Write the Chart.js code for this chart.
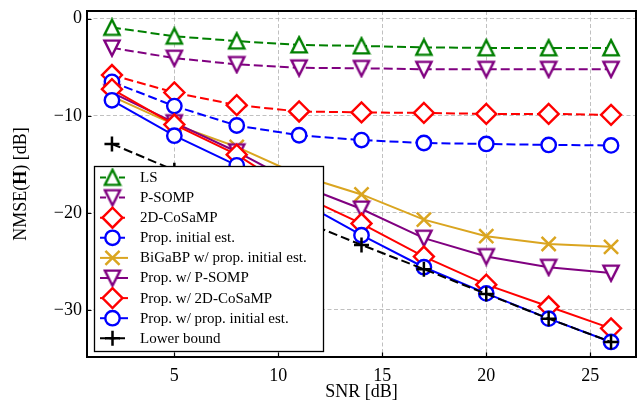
<!DOCTYPE html>
<html>
<head>
<meta charset="utf-8">
<script src="https://cdn.jsdelivr.net/npm/chart.js@4.4.1/dist/chart.umd.min.js"></script>
<style>
  html, body { margin: 0; padding: 0; background: #ffffff; }
  #wrap { width: 637px; height: 409px; }
</style>
</head>
<body>
<div id="wrap"><canvas id="c" width="637" height="409"></canvas></div>
<script>
// ---- data ----
const snr = [2, 5, 8, 11, 14, 17, 20, 23, 26];
const lsVals        = [-0.9, -1.8, -2.3, -2.7, -2.8, -2.95, -3.0, -3.0, -3.0];
const psompVals     = [-3.0, -4.05, -4.7, -5.05, -5.1, -5.2, -5.2, -5.2, -5.2];
const cosampVals    = [-5.8, -7.6, -8.9, -9.55, -9.65, -9.7, -9.8, -9.8, -9.9];
const propInitVals  = [-6.5, -9.0, -11.0, -12.0, -12.5, -12.8, -12.9, -13.0, -13.05];
const bigabpVals    = [-8.0, -10.9, -13.2, -16.1, -18.1, -20.7, -22.4, -23.2, -23.5];
const propPsompVals = [-7.6, -10.7, -13.7, -17.1, -19.6, -22.6, -24.5, -25.6, -26.2];
const propCosampVals= [-7.25, -10.9, -14.0, -18.1, -21.1, -24.5, -27.4, -29.65, -31.9];
const propPropVals  = [-8.4, -12.05, -15.1, -18.75, -22.3, -25.6, -28.3, -30.9, -33.3];
const lowerVals     = [-12.9, -15.6, -18.2, -20.7, -23.3, -25.8, -28.35, -30.9, -33.3];

const seriesLabels = ['LS', 'P-SOMP', '2D-CoSaMP', 'Prop. initial est.',
  'BiGaBP w/ prop. initial est.', 'Prop. w/ P-SOMP', 'Prop. w/ 2D-CoSaMP',
  'Prop. w/ prop. initial est.', 'Lower bound'];
const xTicks = [5, 10, 15, 20, 25];
const yTicks = [0, -10, -20, -30];
const xTitle = 'SNR [dB]';

// ---- styles ----
const GREEN = '#008000', PURPLE = '#800080', RED = '#ff0000', BLUE = '#0000ff', GOLD = '#daa520', BLACK = '#000000';
const DASH = [9, 4];

// matplotlib-like triangle markers (bounding box centred on the point)
function triMarker(color, down) {
  const cv = document.createElement('canvas');
  cv.width = 20; cv.height = 20;
  const g = cv.getContext('2d');
  g.strokeStyle = color; g.fillStyle = '#ffffff'; g.lineWidth = 2.4; g.lineJoin = 'miter';
  g.beginPath();
  if (!down) { g.moveTo(10, 2.3); g.lineTo(2.4, 17.4); g.lineTo(17.6, 17.4); }
  else { g.moveTo(10, 17.7); g.lineTo(2.4, 2.6); g.lineTo(17.6, 2.6); }
  g.closePath();
  g.fill(); g.stroke();
  return cv;
}
const triUpGreen = triMarker(GREEN, false);
const triDownPurple = triMarker(PURPLE, true);

const styles = [
  {c: GREEN,  s: triUpGreen,    r: 9.5, dash: true},
  {c: PURPLE, s: triDownPurple, r: 9.5, dash: true},
  {c: RED,    s: 'rectRot',  r: 10,  dash: true},
  {c: BLUE,   s: 'circle',   r: 7.2, dash: true},
  {c: GOLD,   s: 'crossRot', r: 10,  dash: false},
  {c: PURPLE, s: triDownPurple, r: 9.5, dash: false},
  {c: RED,    s: 'rectRot',  r: 10,  dash: false},
  {c: BLUE,   s: 'circle',   r: 7.2, dash: false},
  {c: BLACK,  s: 'cross',    r: 7.5, dash: true},
];
const allVals = [lsVals, psompVals, cosampVals, propInitVals, bigabpVals, propPsompVals, propCosampVals, propPropVals, lowerVals];
const isStroke = s => (s === 'cross' || s === 'crossRot');

const datasets = allVals.map((vals, i) => {
  const st = styles[i];
  return {
    label: seriesLabels[i],
    data: snr.map((x, k) => ({x: x, y: vals[k]})),
    borderColor: st.c,
    backgroundColor: st.c,
    borderWidth: 2,
    borderDash: st.dash ? DASH : [],
    pointStyle: st.s,
    pointRadius: st.r,
    pointBorderColor: st.c,
    pointBackgroundColor: isStroke(st.s) ? st.c : '#ffffff',
    pointBorderWidth: isStroke(st.s) ? 2.5 : 2.4,
    fill: false,
    tension: 0,
    order: 20 - i,
    clip: false
  };
});

const SERIF = '"Liberation Serif", "DejaVu Serif", serif';
const fmt = v => (v < 0 ? '\u2212' + Math.abs(v) : String(v));

const framePlugin = {
  id: 'frame',
  beforeDatasetsDraw(chart) {
    const ctx = chart.ctx, a = chart.chartArea;
    const xs = chart.scales.x, ys = chart.scales.y;
    ctx.save();
    ctx.strokeStyle = '#000';
    ctx.lineWidth = 1.2;
    ctx.beginPath();
    xTicks.forEach(v => { const px = Math.round(xs.getPixelForValue(v)) + 0.5; ctx.moveTo(px, a.bottom); ctx.lineTo(px, a.bottom - 4.5); });
    yTicks.forEach(v => { const py = Math.round(ys.getPixelForValue(v)) + 0.5; ctx.moveTo(a.left, py); ctx.lineTo(a.left + 4.5, py); });
    ctx.stroke();
    ctx.restore();
  },
  afterDatasetsDraw(chart) {
    const ctx = chart.ctx, a = chart.chartArea;
    const bx = 94, by = 166, bw = 229, bh = 185;
    ctx.save();
    ctx.fillStyle = '#ffffff';
    ctx.fillRect(bx, by, bw, bh);
    ctx.strokeStyle = '#000';
    ctx.lineWidth = 1.3;
    ctx.strokeRect(bx + 0.5, by + 0.5, bw, bh);
    chart.data.datasets.forEach((ds, i) => {
      const st = styles[i];
      const cy = 177.5 + i * 20.1;
      ctx.save();
      ctx.strokeStyle = st.c;
      ctx.lineWidth = 2;
      ctx.setLineDash(st.dash ? [6, 3.5] : []);
      ctx.beginPath();
      ctx.moveTo(100, cy);
      ctx.lineTo(128, cy);
      ctx.stroke();
      ctx.restore();
      ctx.save();
      ctx.strokeStyle = st.c;
      ctx.fillStyle = isStroke(st.s) ? st.c : '#ffffff';
      ctx.lineWidth = isStroke(st.s) ? 2.5 : 2.4;
      ctx.setLineDash([]);
      Chart.helpers.drawPoint(ctx, {pointStyle: st.s, radius: st.r, rotation: 0, borderWidth: ctx.lineWidth}, 112.5, cy);
      ctx.restore();
      ctx.fillStyle = '#000';
      ctx.font = '15px ' + SERIF;
      ctx.textBaseline = 'middle';
      ctx.textAlign = 'left';
      ctx.fillText(ds.label, 140, cy + 0.5);
    });
    ctx.strokeStyle = '#000';
    ctx.lineWidth = 2;
    ctx.strokeRect(a.left, a.top, a.right - a.left, a.bottom - a.top);
    ctx.restore();
    ctx.save();
    ctx.translate(21, (a.top + a.bottom) / 2);
    ctx.rotate(-Math.PI / 2);
    ctx.fillStyle = '#000';
    ctx.textBaseline = 'middle';
    const parts = [['NMSE(', '18px ' + SERIF], ['H', 'bold 18px ' + SERIF], [') [dB]', '18px ' + SERIF]];
    let total = 0;
    parts.forEach(p => { ctx.font = p[1]; total += ctx.measureText(p[0]).width; });
    let x0 = -total / 2;
    parts.forEach(p => { ctx.font = p[1]; ctx.textAlign = 'left'; ctx.fillText(p[0], x0, 0); x0 += ctx.measureText(p[0]).width; });
    ctx.restore();
  }
};

new Chart(document.getElementById('c'), {
  type: 'line',
  data: { datasets: datasets },
  options: {
    responsive: false,
    animation: false,
    devicePixelRatio: 1,
    layout: { autoPadding: false, padding: { top: 11, right: 1, left: 0, bottom: 0 } },
    plugins: { legend: { display: false }, tooltip: { enabled: false }, title: { display: false } },
    scales: {
      x: {
        type: 'linear', min: 0.8, max: 27.2,
        afterBuildTicks: s => { s.ticks = xTicks.map(v => ({value: v})); },
        afterFit: s => { s.height = 52; s.paddingLeft = 0; s.paddingRight = 0; },
        grid: { color: '#b0b0b0', lineWidth: 0.8, drawTicks: false },
        border: { display: false, dash: [4, 2.5] },
        ticks: { color: '#000', padding: 8, font: { family: SERIF, size: 18 }, maxRotation: 0, callback: v => fmt(v) },
        title: { display: true, text: xTitle, color: '#000', font: { family: SERIF, size: 18 }, padding: { top: 0, bottom: 6 } }
      },
      y: {
        type: 'linear', min: -34.85, max: 0.8,
        afterBuildTicks: s => { s.ticks = yTicks.map(v => ({value: v})); },
        afterFit: s => { s.width = 87; s.paddingTop = 0; s.paddingBottom = 0; },
        grid: { color: '#b0b0b0', lineWidth: 0.8, drawTicks: false },
        border: { display: false, dash: [4, 2.5] },
        ticks: { color: '#000', padding: 5, font: { family: SERIF, size: 18 }, callback: v => fmt(v) }
      }
    }
  },
  plugins: [framePlugin]
});
</script>
</body>
</html>
